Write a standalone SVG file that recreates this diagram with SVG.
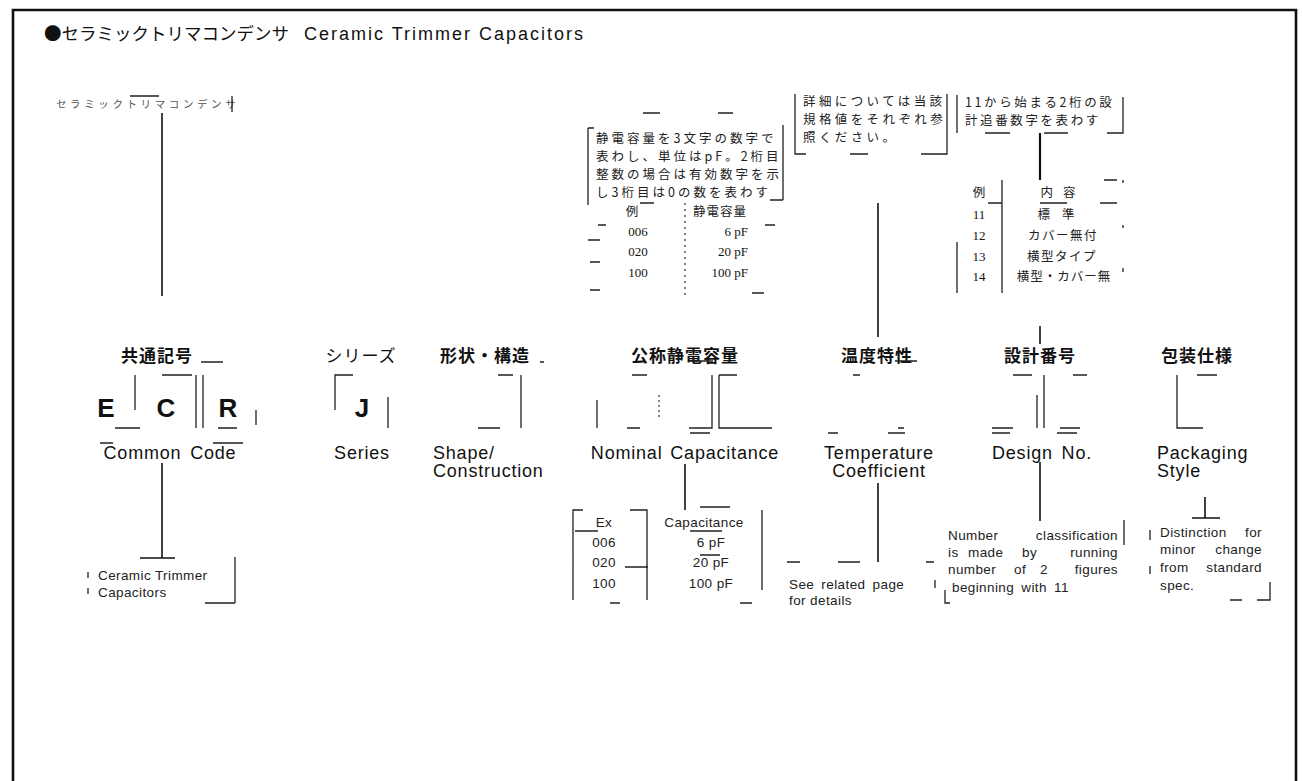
<svg xmlns="http://www.w3.org/2000/svg" width="1302" height="781" viewBox="0 0 1302 781">
<style>
.jp{font-family:"Noto Sans CJK JP","Noto Sans",sans-serif;fill:#111}
.jph{font-family:"Noto Sans CJK JP",sans-serif;font-size:17px;font-weight:bold;fill:#111;text-anchor:middle;letter-spacing:1px}
.jps{font-family:"Noto Sans CJK JP",sans-serif;font-size:12.5px;fill:#222;letter-spacing:3px}
.big{font-family:"Liberation Sans",Arial,sans-serif;font-size:26px;font-weight:bold;fill:#111;text-anchor:middle}
.en{font-family:"Liberation Sans",Arial,sans-serif;font-size:18px;fill:#111;letter-spacing:0.8px}
.sm{font-family:"Liberation Sans",Arial,sans-serif;font-size:13.5px;fill:#222;letter-spacing:0.4px}
.num{font-family:"Liberation Serif","Noto Sans CJK JP",serif;font-size:13px;fill:#111}
.ln{stroke:#111;stroke-width:1.6;fill:none}
.fr{stroke:#222;stroke-width:1.3;fill:none}
.dot{stroke:#333;stroke-width:1.2;fill:none;stroke-dasharray:2 4}
</style>

<g id="frame">
<path d="M13,790 V10 H1296 V790" fill="none" stroke="#111" stroke-width="2.6"/>
</g>

<g id="title">
<text class="jp" x="44" y="40" font-size="17.5">●セラミックトリマコンデンサ</text>
<text class="en" x="304" y="40" font-size="17.5" style="letter-spacing:2px">Ceramic Trimmer Capacitors</text>
</g>

<g id="jp-common-note">
<text class="jps" x="56" y="108" style="font-size:10.5px;letter-spacing:3.6px;fill:#555">セラミックトリマコンデンサ</text>
<path class="fr" d="M130,96 H159 M232,96 V112"/>
</g>

<g id="jp-cap-note">
<text class="jps" x="596" y="143">静電容量を3文字の数字で</text>
<text class="jps" x="596" y="161">表わし、単位はpF。2桁目</text>
<text class="jps" x="596" y="179">整数の場合は有効数字を示</text>
<text class="jps" x="596" y="197">し3桁目は0の数を表わす</text>
<path class="fr" d="M588,128 V205 M588,128 H594 M643,113 H660 M718,113 H733 M783,125 V200 M770,200 H783"/>
<text class="jps" x="632" y="216" text-anchor="middle" style="letter-spacing:0">例</text>
<text class="jps" x="720" y="216" text-anchor="middle" style="letter-spacing:1px">静電容量</text>
<text class="num" x="638" y="236" text-anchor="middle">006</text>
<text class="num" x="638" y="256" text-anchor="middle">020</text>
<text class="num" x="638" y="277" text-anchor="middle">100</text>
<text class="num" x="748" y="236" text-anchor="end">6 pF</text>
<text class="num" x="748" y="256" text-anchor="end">20 pF</text>
<text class="num" x="748" y="277" text-anchor="end">100 pF</text>
<path class="dot" d="M685,203 V296"/>
<path class="fr" d="M640,203 H654 M598,225 H606 M765,225 H775 M588,240 H600 M590,262 H600 M590,290 H600 M752,293 H764"/>
</g>

<g id="jp-temp-note">
<text class="jps" x="803" y="106" style="letter-spacing:3.4px">詳細については当該</text>
<text class="jps" x="803" y="124" style="letter-spacing:3.4px">規格値をそれぞれ参</text>
<text class="jps" x="803" y="142" style="letter-spacing:3.4px">照ください。</text>
<path class="fr" d="M795,94 V154 H806 M850,154 H868 M947,94 V154 H921"/>
</g>

<g id="jp-design-note">
<text class="jps" x="965" y="107" style="letter-spacing:2.6px">11から始まる2桁の設</text>
<text class="jps" x="965" y="125" style="letter-spacing:2.6px">計追番数字を表わす</text>
<path class="fr" d="M957,95 V133 M985,133 H1010 M1044,133 H1068 M1123,97 V133 H1107"/>
<text class="jps" x="979" y="197" text-anchor="middle" style="letter-spacing:0">例</text>
<text class="jps" x="1063" y="197" text-anchor="middle" style="letter-spacing:10px">内容</text>
<text class="num" x="979" y="219" text-anchor="middle">11</text>
<text class="num" x="979" y="240" text-anchor="middle">12</text>
<text class="num" x="979" y="261" text-anchor="middle">13</text>
<text class="num" x="979" y="281" text-anchor="middle">14</text>
<text class="jps" x="1062" y="219" text-anchor="middle" style="letter-spacing:12px">標準</text>
<text class="jps" x="1063" y="240" text-anchor="middle" style="letter-spacing:1.5px">カバー無付</text>
<text class="jps" x="1062" y="261" text-anchor="middle" style="letter-spacing:1.5px">横型タイプ</text>
<text class="jps" x="1064" y="281" text-anchor="middle" style="letter-spacing:1px">横型・カバー無</text>
<path class="fr" d="M1002,180 V293 M988,203 H1002 M1040,203 H1067 M1100,203 H1117 M957,242 V293 M1104,180 H1117 M1123,180 V183 M1123,225 V228 M1123,268 V272"/>
</g>

<g id="common-code">
<text class="jph" x="157" y="362">共通記号</text>
<text class="big" x="106" y="417">E</text>
<text class="big" x="166" y="417">C</text>
<text class="big" x="228" y="417">R</text>
<path class="fr" d="M201,362 H223 M115,428 H140 M135,375 V410 M162,375 H192 M196,375 V428 M203,375 V428 M218,428 H237 M256,410 V425 M100,443 H113 M213,443 H243"/>
<text class="en" x="170" y="459" text-anchor="middle" style="word-spacing:3px">Common Code</text>
</g>

<g id="series">
<text class="jp" x="361" y="362" font-size="17" text-anchor="middle" style="letter-spacing:1px">シリーズ</text>
<text class="big" x="362" y="417">J</text>
<path class="fr" d="M353,375 H335 V410 M388,397 V428"/>
<text class="en" x="362" y="459" text-anchor="middle">Series</text>
</g>

<g id="shape">
<text class="jph" x="485" y="362">形状・構造</text>
<path class="fr" d="M498,375 H513 M521,375 V428 M478,428 H500 M540,362 H544"/>
<text class="en" x="433" y="459">Shape/</text>
<text class="en" x="433" y="477">Construction</text>
</g>

<g id="nominal">
<text class="jph" x="685" y="362">公称静電容量</text>
<path class="fr" d="M690,361 H713 M597,400 V428 M627,428 H640 M632,375 H647 M712,375 V428 H689 M719,375 V428 H772 M719,375 H737 M690,433 H710"/>
<path class="dot" d="M659,395 V420" style="stroke-dasharray:2 3"/>
<text class="en" x="685" y="459" text-anchor="middle" style="word-spacing:2px">Nominal Capacitance</text>
</g>

<g id="temperature">
<text class="jph" x="877" y="362">温度特性</text>
<path class="fr" d="M895,361 H917 M853,375 H860 M898,428 H904 M828,433 H838 M888,433 H905"/>
<text class="en" x="879" y="459" text-anchor="middle">Temperature</text>
<text class="en" x="879" y="477" text-anchor="middle">Coefficient</text>
</g>

<g id="design">
<text class="jph" x="1040" y="362">設計番号</text>
<path class="fr" d="M1037,395 V428 M1044,375 V428 M992,428 H1013 M1060,428 H1080 M1013,375 H1032 M1073,375 H1087 M992,433 H1010 M1057,433 H1077"/>
<text class="en" x="1042" y="459" text-anchor="middle" style="word-spacing:3px">Design No.</text>
</g>

<g id="packaging">
<text class="jph" x="1197" y="362">包装仕様</text>
<path class="fr" d="M1177,375 V428 H1203 M1197,375 H1217"/>
<text class="en" x="1157" y="459">Packaging</text>
<text class="en" x="1157" y="477">Style</text>
</g>

<g id="connectors">
<path class="ln" d="M162,113 V296"/>
<path class="ln" d="M878,203 V337"/>
<path class="ln" d="M1040,133 V180" style="stroke-width:2.2"/>
<path class="ln" d="M1040,326 V344"/>
<path class="ln" d="M162,463 V558 M140,558 H175"/>
<path class="ln" d="M685,464 V510"/>
<path class="ln" d="M878,483 V562"/>
<path class="ln" d="M1040,462 V521"/>
<path class="ln" d="M1205,497 V518 M1192,518 H1220"/>
</g>

<g id="ceramic-note">
<text class="sm" x="98" y="580">Ceramic Trimmer</text>
<text class="sm" x="98" y="597">Capacitors</text>
<path class="fr" d="M235,557 V603 M205,603 H235 M88,572 V578 M88,588 V594"/>
</g>

<g id="cap-table">
<path class="fr" d="M583,510 H573 V600 M575,531 H598 M630,510 H647 V600 M625,567 H648 M700,507 H730 M690,531 H722 M762,510 V590 M620,603 H610 M740,603 H752 M700,555 H720"/>
<text class="sm" x="604" y="527" text-anchor="middle">Ex</text>
<text class="sm" x="604" y="547" text-anchor="middle">006</text>
<text class="sm" x="604" y="567" text-anchor="middle">020</text>
<text class="sm" x="604" y="588" text-anchor="middle">100</text>
<text class="sm" x="704" y="527" text-anchor="middle">Capacitance</text>
<text class="sm" x="711" y="547" text-anchor="middle">6 pF</text>
<text class="sm" x="711" y="567" text-anchor="middle">20 pF</text>
<text class="sm" x="711" y="588" text-anchor="middle">100 pF</text>
</g>

<g id="temp-note">
<path class="fr" d="M787,562 H800 M838,562 H860 M926,562 H934 M935,580 V588"/>
<text class="sm" x="789" y="589" style="word-spacing:3px">See related page</text>
<text class="sm" x="789" y="605">for details</text>
</g>

<g id="design-note">
<path class="fr" d="M1124,520 V545 M945,590 V603 H950"/>
<text class="sm" x="948" y="540">Number</text>
<text class="sm" x="1118" y="540" text-anchor="end">classification</text>
<text class="sm" x="948" y="557">is</text>
<text class="sm" x="968" y="557">made</text>
<text class="sm" x="1022" y="557">by</text>
<text class="sm" x="1118" y="557" text-anchor="end">running</text>
<text class="sm" x="948" y="574">number</text>
<text class="sm" x="1014" y="574">of</text>
<text class="sm" x="1040" y="574">2</text>
<text class="sm" x="1118" y="574" text-anchor="end">figures</text>
<text class="sm" x="952" y="592" style="word-spacing:3px">beginning with 11</text>
</g>

<g id="packaging-note">
<path class="fr" d="M1150,530 V540 M1150,566 V574 M1270,582 V600 H1257 M1230,600 H1242"/>
<text class="sm" x="1160" y="537">Distinction</text>
<text class="sm" x="1262" y="537" text-anchor="end">for</text>
<text class="sm" x="1160" y="554">minor</text>
<text class="sm" x="1262" y="554" text-anchor="end">change</text>
<text class="sm" x="1160" y="572">from</text>
<text class="sm" x="1262" y="572" text-anchor="end">standard</text>
<text class="sm" x="1160" y="590">spec.</text>
</g>
</svg>
